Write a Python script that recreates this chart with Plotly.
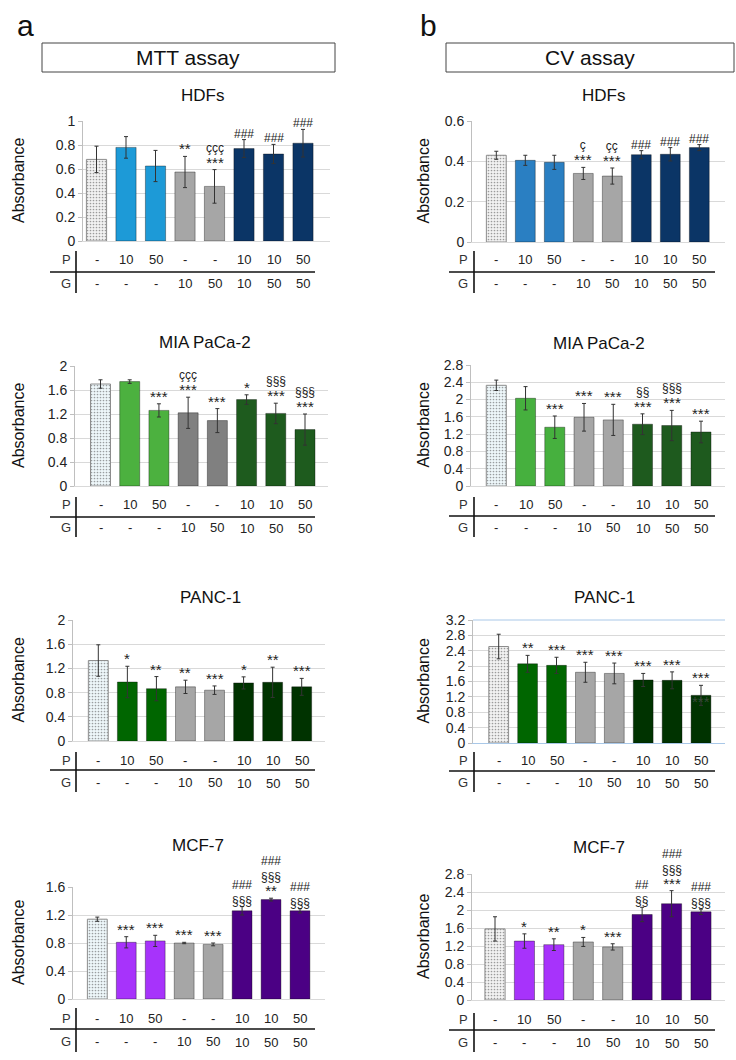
import plotly.graph_objects as go

W, H = 736, 1060
FONT = "Liberation Sans, Arial, sans-serif"

def px(x):
    return x / W

def py(y):
    return 1 - y / H

# ---------------- data ----------------
P_labels = ["-", "10", "50", "-", "-", "10", "10", "50"]
G_labels = ["-", "-", "-", "10", "50", "10", "50", "50"]

hdf_mtt = [0.68, 0.78, 0.625, 0.575, 0.455, 0.77, 0.725, 0.815]
hdf_mtt_err = [0.11, 0.09, 0.13, 0.13, 0.14, 0.075, 0.08, 0.115]
hdf_mtt_sig = ["", "", "", "**", "ççç<br>***", "###", "###", "###"]

hdf_cv = [0.43, 0.405, 0.395, 0.34, 0.327, 0.433, 0.435, 0.468]
hdf_cv_err = [0.02, 0.025, 0.035, 0.03, 0.04, 0.02, 0.033, 0.015]
hdf_cv_sig = ["", "", "", "ç<br>***", "çç<br>***", "###", "###", "###"]

mia_mtt = [1.70, 1.74, 1.26, 1.22, 1.09, 1.44, 1.21, 0.94]
mia_mtt_err = [0.07, 0.03, 0.11, 0.26, 0.20, 0.08, 0.17, 0.26]
mia_mtt_sig = ["", "", "***", "ççç<br>***", "***", "*", "§§§<br>***", "§§§<br>***"]

mia_cv = [2.33, 2.03, 1.36, 1.59, 1.53, 1.43, 1.40, 1.25]
mia_cv_err = [0.12, 0.27, 0.26, 0.32, 0.36, 0.24, 0.35, 0.25]
mia_cv_sig = ["", "", "***", "***", "***", "§§<br>***", "§§§<br>***", "***"]

panc_mtt = [1.33, 0.975, 0.865, 0.895, 0.84, 0.96, 0.97, 0.895]
panc_mtt_err = [0.26, 0.26, 0.20, 0.11, 0.07, 0.10, 0.25, 0.14]
panc_mtt_sig = ["", "*", "**", "**", "***", "*", "**", "***"]

panc_cv = [2.51, 2.06, 2.02, 1.84, 1.81, 1.64, 1.63, 1.24]
panc_cv_err = [0.32, 0.22, 0.21, 0.26, 0.27, 0.17, 0.22, 0.26]
panc_cv_sig = ["", "**", "***", "***", "***", "***", "***", "***"]
panc_cv_inner_mark = "***"
panc_cv_inner_value = 1.07

mcf_mtt = [1.14, 0.81, 0.83, 0.80, 0.78, 1.26, 1.42, 1.26]
mcf_mtt_err = [0.03, 0.08, 0.08, 0.01, 0.02, 0.06, 0.02, 0.03]
mcf_mtt_sig = ["", "***", "***", "***", "***", "###<br>§§§", "###<br>§§§<br>**", "###<br>§§§"]

mcf_cv = [1.58, 1.31, 1.23, 1.29, 1.18, 1.90, 2.14, 1.96]
mcf_cv_err = [0.27, 0.16, 0.13, 0.10, 0.07, 0.16, 0.29, 0.06]
mcf_cv_sig = ["", "*", "**", "*", "***", "##<br>§§", "###<br>§§§<br>***", "###<br>§§§"]

titles = ["HDFs", "HDFs", "MIA PaCa-2", "MIA PaCa-2", "PANC-1", "PANC-1", "MCF-7", "MCF-7"]
y_max = [1.0, 0.6, 2.0, 2.8, 2.0, 3.2, 1.6, 2.8]
y_step = [0.2, 0.2, 0.4, 0.4, 0.4, 0.4, 0.4, 0.4]

values = [hdf_mtt, hdf_cv, mia_mtt, mia_cv, panc_mtt, panc_cv, mcf_mtt, mcf_cv]
errors = [hdf_mtt_err, hdf_cv_err, mia_mtt_err, mia_cv_err, panc_mtt_err, panc_cv_err, mcf_mtt_err, mcf_cv_err]
sigs = [hdf_mtt_sig, hdf_cv_sig, mia_mtt_sig, mia_cv_sig, panc_mtt_sig, panc_cv_sig, mcf_mtt_sig, mcf_cv_sig]

# ---------------- styles ----------------
GREY = "#a6a6a6"
colors = [
    ["#f2f2f2", "#1d9ad7", "#1d9ad7", GREY, GREY, "#0b3566", "#0b3566", "#0b3566"],
    ["#f2f2f2", "#2a7fc2", "#2a7fc2", GREY, GREY, "#0b3566", "#0b3566", "#0b3566"],
    ["#eef7fa", "#4cb13f", "#4cb13f", "#808080", "#808080", "#1e5b1e", "#1e5b1e", "#1e5b1e"],
    ["#eef7fa", "#46b03e", "#46b03e", GREY, GREY, "#1e5a1e", "#1e5a1e", "#1e5a1e"],
    ["#eef7fa", "#006600", "#006600", GREY, GREY, "#003300", "#003300", "#003300"],
    ["#f2f2f2", "#006600", "#006600", GREY, GREY, "#003300", "#003300", "#003300"],
    ["#eef7fa", "#a733fb", "#a733fb", GREY, GREY, "#4b0084", "#4b0084", "#4b0084"],
    ["#f2f2f2", "#a733fb", "#a733fb", GREY, GREY, "#4b0084", "#4b0084", "#4b0084"],
]

# layout geometry in pixels: (x0, x1, y_top, y_bottom, first bar centre, last bar centre)
geom = [
    (83, 330, 121, 241, 96.5, 303),
    (472, 725, 121, 242, 496.3, 699.3),
    (75, 328, 366, 486, 100.5, 305),
    (471, 725, 365, 486, 496.3, 701),
    (73, 325, 620, 741, 98.3, 301.7),
    (473, 725, 620, 743, 498.7, 701),
    (73, 325, 887, 999, 97.3, 300),
    (472, 725, 874, 1000, 495, 701),
]
title_pos = [(203, 95), (603, 95), (205, 342), (599, 343), (210, 597), (604, 597), (198, 845), (599, 847)]
# table rows: P text y, line y, G text y, vline top, vline bottom
table_pos = [
    (260, 272, 283, 251, 293),
    (260, 272, 283, 251, 293),
    (505, 517, 527, 497, 537),
    (505, 516, 527, 497, 537),
    (760, 770, 782, 752, 792),
    (760, 771, 782, 752, 792),
    (1018, 1029, 1041, 1008, 1052),
    (1019, 1030, 1042, 1013, 1052),
]

fig = go.Figure()
annotations = []
shapes = []
layout = {}


def text_ann(x, y, text, size, color="#111111", **kw):
    d = dict(x=x, y=y, xref="paper", yref="paper", text=text, showarrow=False,
             xanchor="center", yanchor="middle",
             font=dict(family=FONT, size=size, color=color))
    d.update(kw)
    return d


def style_sig(txt):
    out = []
    for line in txt.split("<br>"):
        if "*" in line:
            out.append('<span style="font-size:15px">' + line + "</span>")
        else:
            out.append(line)
    return "<br>".join(out)


for i in range(8):
    n = "" if i == 0 else str(i + 1)
    xa, ya = "x" + n, "y" + n
    x0, x1, yt, yb, c0, c7 = geom[i]
    s = (c7 - c0) / 7.0
    rlo = (x0 - c0) / s
    rhi = 7 + (x1 - c7) / s
    xs = list(range(8))
    line_cols = ["#8c8c8c"] + ["rgba(0,0,0,0.35)"] * 7
    fig.add_trace(go.Bar(
        x=xs, y=values[i], xaxis=xa, yaxis=ya,
        marker=dict(
            color=colors[i],
            line=dict(color=line_cols, width=1),
            pattern=dict(shape=["."] + [""] * 7, fgcolor="#9a9a9a", size=3, solidity=0.25,
                         fillmode="overlay"),
        ),
        error_y=dict(type="data", array=errors[i], color="#333333", thickness=1, width=2),
        showlegend=False, hoverinfo="skip",
    ))
    gridcol = "#d9d9d9"
    layout["xaxis" + n] = dict(
        domain=[px(x0), px(x1)], range=[rlo, rhi], anchor=ya, automargin=False,
        showticklabels=False, showgrid=False, zeroline=False, ticks="",
        showline=True, linecolor="#a9c8e8" if i == 5 else gridcol, linewidth=1,
        fixedrange=True,
    )
    layout["yaxis" + n] = dict(
        domain=[py(yb), py(yt)], range=[0, y_max[i]], anchor=xa, automargin=False,
        dtick=y_step[i], tick0=0, showgrid=True, gridcolor=gridcol, gridwidth=1,
        zeroline=False, showline=True, linecolor="#bfbfbf", linewidth=1,
        ticks="outside", ticklen=4, tickcolor="#bfbfbf",
        tickfont=dict(family=FONT, size=14, color="#222222"),
        fixedrange=True,
    )
    if i == 5:
        shapes.append(dict(type="line", xref="paper", yref="paper",
                           x0=px(x0), x1=px(x1), y0=py(yt), y1=py(yt),
                           line=dict(color="#a9c8e8", width=1)))
    # significance marks
    for k in range(8):
        if sigs[i][k]:
            annotations.append(dict(
                x=k, y=values[i][k] + errors[i][k], xref=xa, yref=ya,
                text=style_sig(sigs[i][k]), showarrow=False, xanchor="center", yanchor="bottom",
                font=dict(family=FONT, size=12, color="#222222"), yshift=-3,
            ))
    # panel title
    tx, ty = title_pos[i]
    annotations.append(text_ann(px(tx), py(ty), titles[i], 17))
    # y title
    axx = 18 if i % 2 == 0 else 423
    annotations.append(text_ann(px(axx), py((yt + yb) / 2), "Absorbance", 16, textangle=-90))
    # treatment table
    pY, lY, gY, vT, vB = table_pos[i]
    lab_x = 66 if i % 2 == 0 else 463
    v_x = 76 if i % 2 == 0 else 474
    h0, h1 = (50, 315) if i % 2 == 0 else (449, 715)
    for lbl, yy in (("P", pY), ("G", gY)):
        annotations.append(text_ann(px(lab_x), py(yy), lbl, 13, "#333333"))
    for k in range(8):
        annotations.append(dict(x=k, y=py(pY), xref=xa, yref="paper", text=P_labels[k],
                                showarrow=False, xanchor="center", yanchor="middle",
                                font=dict(family=FONT, size=13, color="#222222")))
        gshift = 1 if k >= 5 else 0
        annotations.append(dict(x=k, y=py(gY + gshift), xref=xa, yref="paper", text=G_labels[k],
                                showarrow=False, xanchor="center", yanchor="middle",
                                font=dict(family=FONT, size=13, color="#222222")))
    shapes.append(dict(type="line", xref="paper", yref="paper", x0=px(h0), x1=px(h1),
                       y0=py(lY), y1=py(lY), line=dict(color="#111111", width=1.6)))
    shapes.append(dict(type="line", xref="paper", yref="paper", x0=px(v_x), x1=px(v_x),
                       y0=py(vT), y1=py(vB), line=dict(color="#111111", width=1.6)))

# stray mark drawn inside the last PANC-1 CV bar
annotations.append(dict(x=7, y=panc_cv_inner_value, xref="x6", yref="y6",
                        text=style_sig(panc_cv_inner_mark),
                        showarrow=False, xanchor="center", yanchor="middle",
                        font=dict(family=FONT, size=12, color="#3a4a3a")))

# header boxes and panel letters
shapes.append(dict(type="rect", xref="paper", yref="paper", x0=px(42), x1=px(335),
                   y0=py(72), y1=py(43), line=dict(color="#444444", width=1)))
shapes.append(dict(type="rect", xref="paper", yref="paper", x0=px(446), x1=px(734),
                   y0=py(72), y1=py(43), line=dict(color="#444444", width=1)))
annotations.append(text_ann(px(188), py(58), "MTT assay", 21))
annotations.append(text_ann(px(590), py(58), "CV assay", 21))
annotations.append(text_ann(px(25), py(26), "a", 30))
annotations.append(text_ann(px(429), py(26), "b", 30))

fig.update_layout(
    width=W, height=H, margin=dict(l=0, r=0, t=0, b=0, autoexpand=False),
    paper_bgcolor="white", plot_bgcolor="white",
    bargap=0.315, annotations=annotations, shapes=shapes,
    font=dict(family=FONT), showlegend=False,
    **layout,
)

fig.write_html("out.html", config={"displayModeBar": False},
               post_script="document.body.style.margin='0';document.body.style.overflow='hidden';")
